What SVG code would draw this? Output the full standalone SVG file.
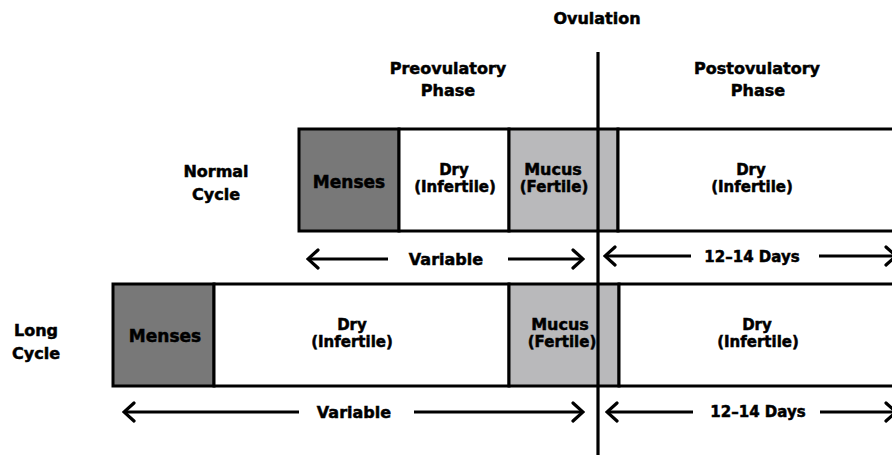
<svg xmlns="http://www.w3.org/2000/svg" width="892" height="455" viewBox="0 0 892 455">
<style>
.t{font-family:"DejaVu Sans","Liberation Sans",sans-serif;font-weight:bold;fill:#000;stroke:#000;stroke-width:0.5;text-anchor:middle}
.f16{font-size:16px}.f15{font-size:15px}.f17{font-size:17px}
.box{stroke:#000;stroke-width:3}
.menses{fill:#787878}.dry{fill:#fff}.mucus{fill:#b9b9bb}
.arr{stroke:#000;stroke-width:3.2;fill:none;marker-end:url(#head)}
</style>
<defs>
<marker id="head" markerUnits="userSpaceOnUse" viewBox="-14 -11 16 22" refX="0" refY="0" markerWidth="16" markerHeight="22" orient="auto">
<path d="M-10,-9 L0,0 L-10,9" fill="none" stroke="#000" stroke-width="3.2" stroke-linecap="round"/>
</marker>
</defs>
<rect width="892" height="455" fill="#fff"/>
<g id="labels">
<text class="t f16" x="597" y="24">Ovulation</text>
<text class="t f16" x="448" y="74">Preovulatory</text>
<text class="t f16" x="448" y="96">Phase</text>
<text class="t f16" x="757" y="74">Postovulatory</text>
<text class="t f16" x="758" y="96">Phase</text>
<text class="t f16" x="216" y="177">Normal</text>
<text class="t f16" x="216" y="200">Cycle</text>
<text class="t f16" x="36" y="336">Long</text>
<text class="t f16" x="36" y="359">Cycle</text>
</g>
<g id="normal-menses"><rect class="box menses" x="299" y="129" width="100" height="102"/><text class="t f17" x="349" y="188">Menses</text></g>
<g id="normal-dry-pre"><rect class="box dry" x="399" y="129" width="110" height="102"/><text class="t f15" x="454" y="175">Dry</text><text class="t f15" x="455" y="192">(Infertile)</text></g>
<g id="normal-mucus"><rect class="box mucus" x="509" y="129" width="109" height="102"/><text class="t f16" x="553" y="175">Mucus</text><text class="t f15" x="554" y="192">(Fertile)</text></g>
<g id="normal-dry-post"><rect class="box dry" x="618" y="129" width="290" height="102"/><text class="t f15" x="751" y="175">Dry</text><text class="t f15" x="752" y="192">(Infertile)</text></g>
<g id="long-menses"><rect class="box menses" x="113" y="284" width="101" height="102"/><text class="t f17" x="165" y="342">Menses</text></g>
<g id="long-dry-pre"><rect class="box dry" x="214" y="284" width="295" height="102"/><text class="t f15" x="352" y="330">Dry</text><text class="t f15" x="352" y="347">(Infertile)</text></g>
<g id="long-mucus"><rect class="box mucus" x="509" y="284" width="110" height="102"/><text class="t f16" x="560" y="330">Mucus</text><text class="t f15" x="562" y="347">(Fertile)</text></g>
<g id="long-dry-post"><rect class="box dry" x="619" y="284" width="290" height="102"/><text class="t f15" x="757" y="330">Dry</text><text class="t f15" x="758" y="347">(Infertile)</text></g>
<g id="spans">
<text class="t f16" x="446" y="265">Variable</text>
<text class="t f15" x="752" y="262">12–14 Days</text>
<text class="t f16" x="354" y="418">Variable</text>
<text class="t f15" x="758" y="417">12–14 Days</text>
</g>
<g id="connectors">
<line x1="598" y1="52" x2="598" y2="455" stroke="#000" stroke-width="3.2"/>
<path class="arr" d="M388,259 L308,259"/>
<path class="arr" d="M508,259 L583,259"/>
<path class="arr" d="M691,256 L605,256"/>
<path class="arr" d="M819,256 L896,256"/>
<path class="arr" d="M299,412 L124,412"/>
<path class="arr" d="M414,412 L583,412"/>
<path class="arr" d="M693,412 L607,412"/>
<path class="arr" d="M820,412 L896,412"/>
</g>
</svg>
